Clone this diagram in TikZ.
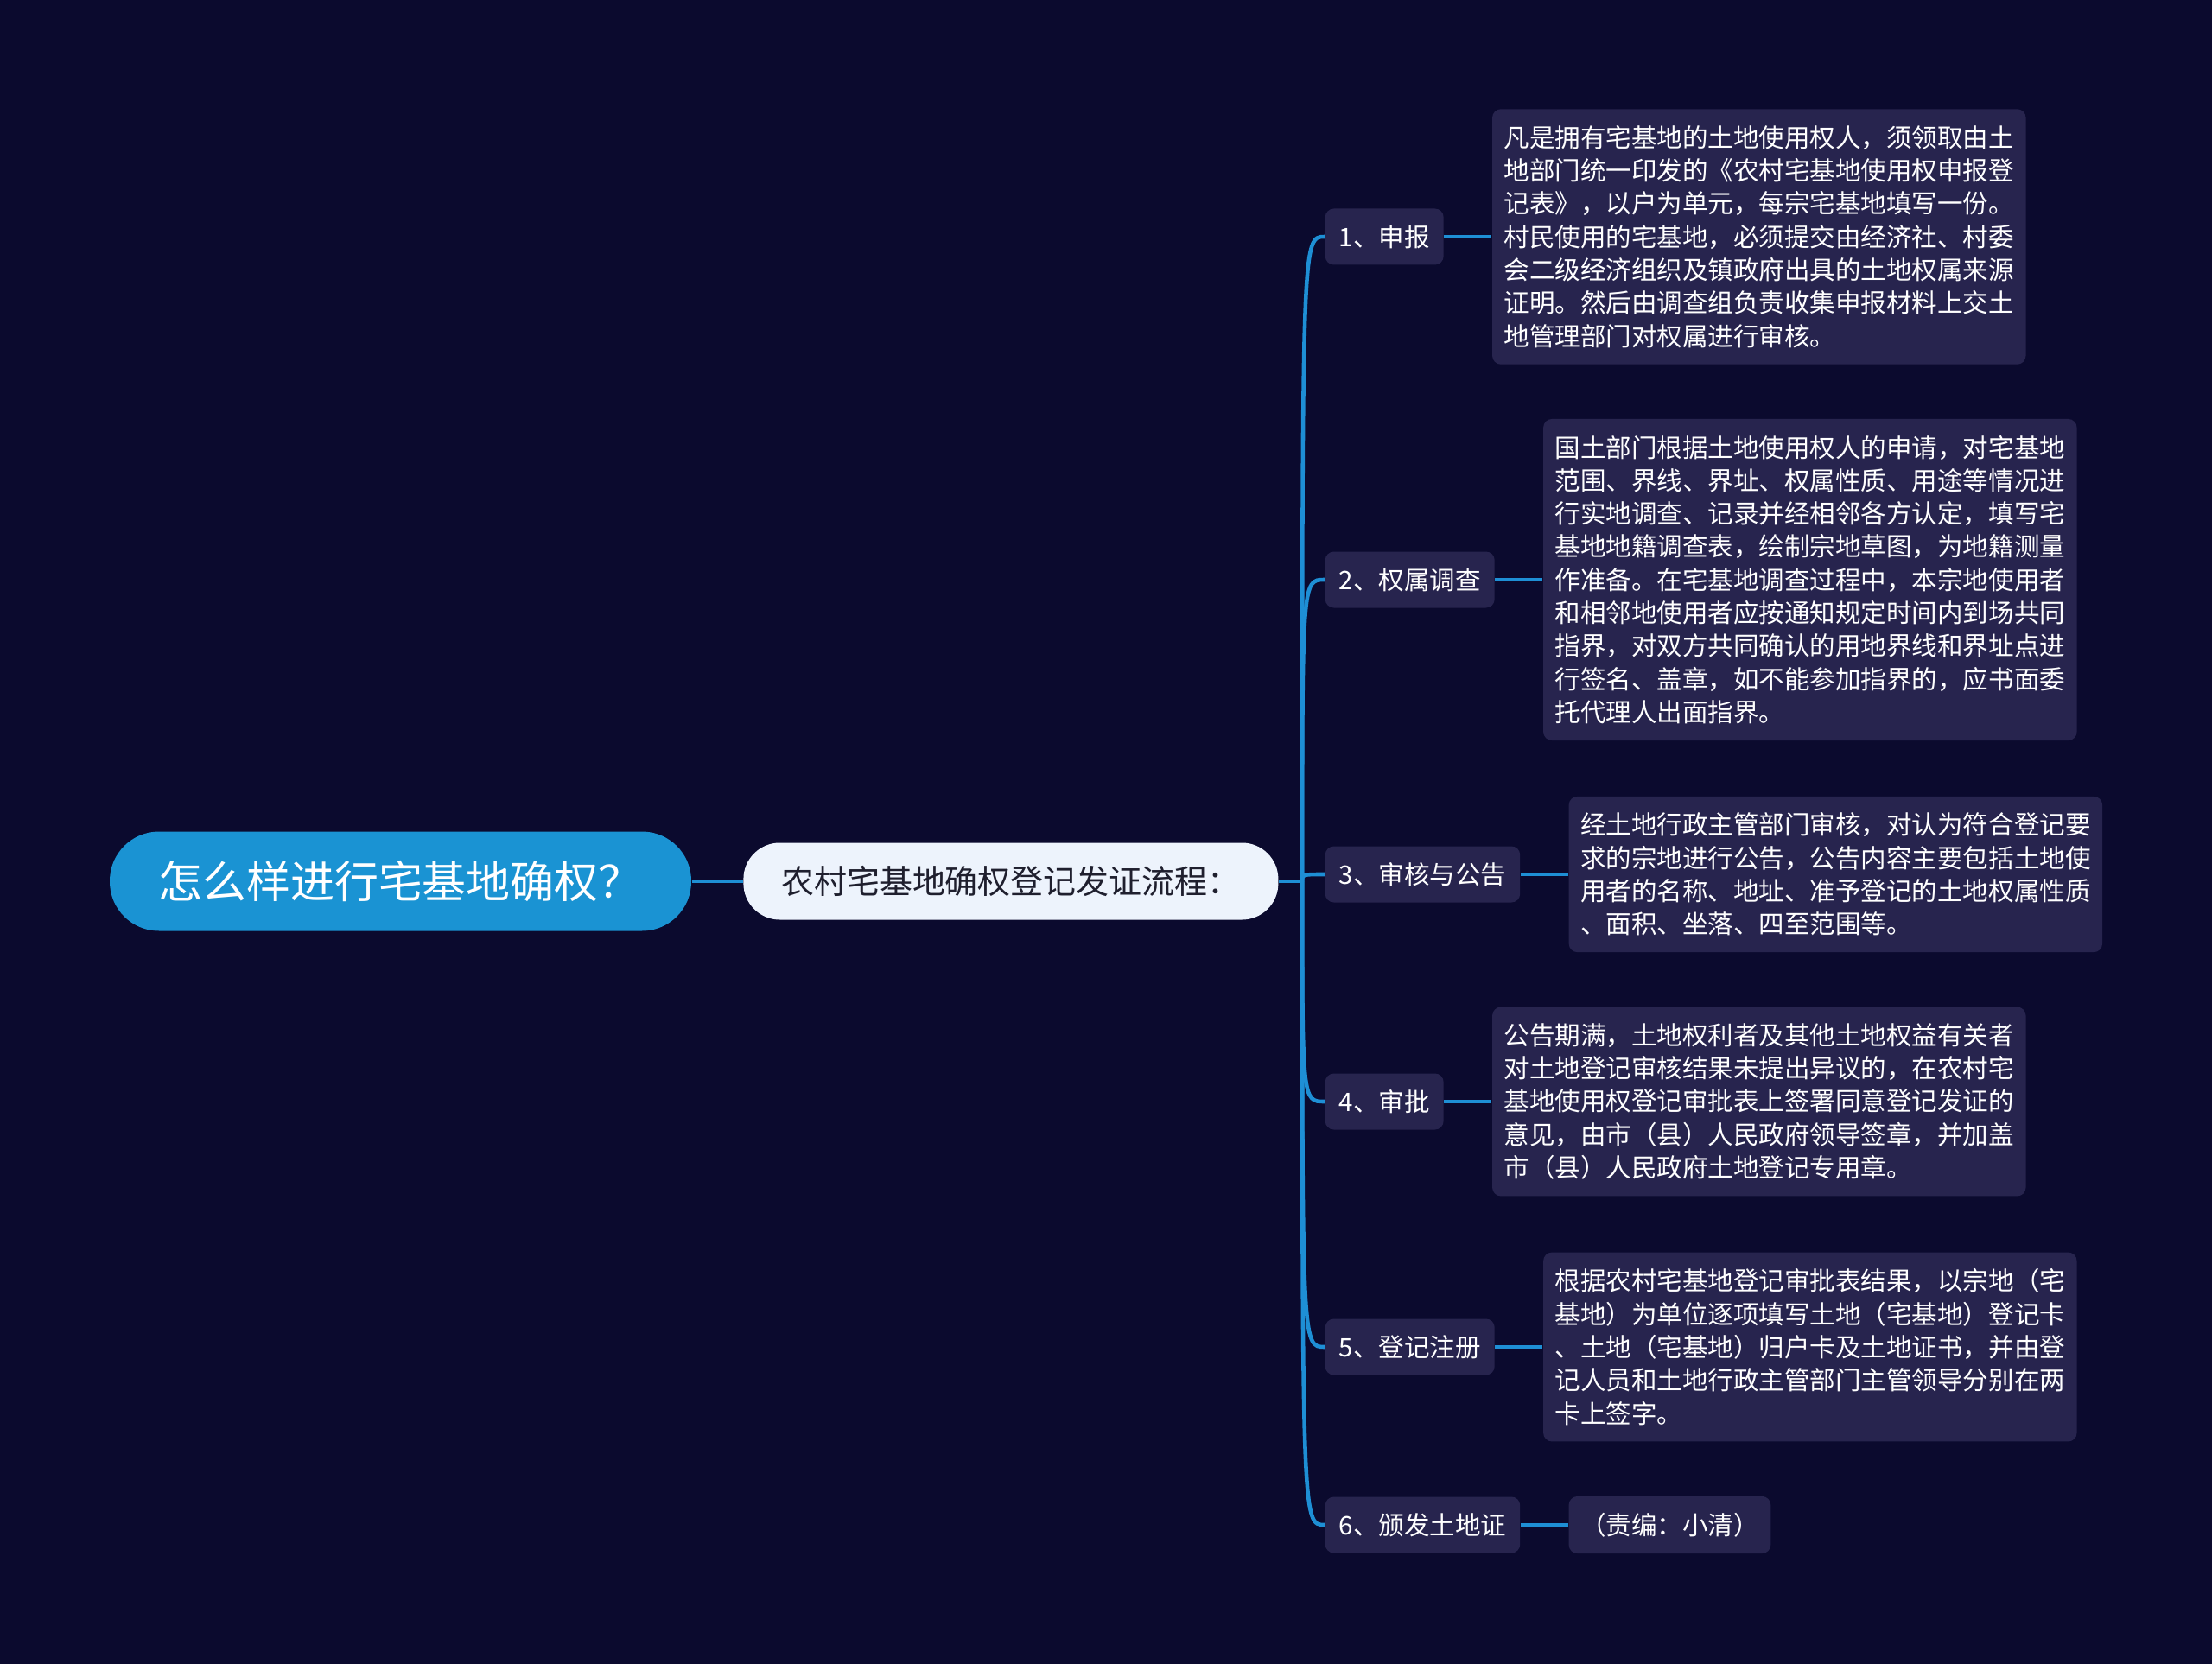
\documentclass[tikz,border=0pt]{standalone}
\usepackage{fontspec}
\setmainfont{Noto Sans CJK SC}
\usetikzlibrary{positioning}

\definecolor{bgnavy}{HTML}{0B0A2E}
\definecolor{rootblue}{HTML}{1A93D3}
\definecolor{topicwhite}{HTML}{EDF3FC}
\definecolor{topictext}{HTML}{1F1F2E}
\definecolor{boxgrey}{HTML}{27244E}
\definecolor{linkblue}{HTML}{1E8FD5}

\begin{document}
\begin{tikzpicture}[
  root/.style={fill=rootblue, rounded corners=0.57cm, minimum width=6.73cm, minimum height=1.15cm, text=white, font=\fontsize{14.5}{17}\selectfont},
  topic/.style={fill=topicwhite, rounded corners=0.42cm, minimum width=6.19cm, minimum height=0.89cm, text=topictext, font=\fontsize{10.8}{12.5}\selectfont},
  stepbox/.style={fill=boxgrey, rounded corners=0.1cm, anchor=west, inner xsep=0.16cm, minimum height=0.65cm, text=white, font=\fontsize{8.4}{10.9}\selectfont},
  note/.style={fill=boxgrey, rounded corners=0.1cm, align=left, inner xsep=0.135cm, inner ysep=0.19cm, text=white, font=\fontsize{8.4}{10.9}\selectfont},
  link/.style={draw=linkblue, line width=1.3pt},
  node distance=0.55cm
]
\fill[bgnavy] (0,0) rectangle (25.6,-19.26);

\node[root] (root) at (4.635,-10.2) {怎么样进行宅基地确权？};
\node[topic, right=0.59cm of root] (flow) {农村宅基地确权登记发证流程：};
\draw[link] (root) -- (flow);
\coordinate (fork) at ([xshift=0.27cm]flow.east);
\draw[link] (flow.east) -- (fork);

% steps
\node[stepbox] (s1) at (15.33,-2.74) {1、申报};
\node[stepbox] (s2) at (15.33,-6.71) {2、权属调查};
\node[stepbox] (s3) at (15.33,-10.12) {3、审核与公告};
\node[stepbox] (s4) at (15.33,-12.75) {4、审批};
\node[stepbox] (s5) at (15.33,-15.59) {5、登记注册};
\node[stepbox] (s6) at (15.33,-17.65) {6、颁发土地证};
\draw[link] (fork) .. controls (fork |- s1.west) .. (s1.west);
\draw[link] (fork) .. controls (fork |- s2.west) .. (s2.west);
\draw[link] (fork) .. controls (fork |- s3.west) .. (s3.west);
\draw[link] (fork) .. controls (fork |- s4.west) .. (s4.west);
\draw[link] (fork) .. controls (fork |- s5.west) .. (s5.west);
\draw[link] (fork) .. controls (fork |- s6.west) .. (s6.west);

% details
\node[note, right=of s1] (d1) {凡是拥有宅基地的土地使用权人，须领取由土\\地部门统一印发的《农村宅基地使用权申报登\\记表》，以户为单元，每宗宅基地填写一份。\\村民使用的宅基地，必须提交由经济社、村委\\会二级经济组织及镇政府出具的土地权属来源\\证明。然后由调查组负责收集申报材料上交土\\地管理部门对权属进行审核。};
\node[note, right=of s2] (d2) {国土部门根据土地使用权人的申请，对宅基地\\范围、界线、界址、权属性质、用途等情况进\\行实地调查、记录并经相邻各方认定，填写宅\\基地地籍调查表，绘制宗地草图，为地籍测量\\作准备。在宅基地调查过程中，本宗地使用者\\和相邻地使用者应按通知规定时间内到场共同\\指界，对双方共同确认的用地界线和界址点进\\行签名、盖章，如不能参加指界的，应书面委\\托代理人出面指界。};
\node[note, right=of s3] (d3) {经土地行政主管部门审核，对认为符合登记要\\求的宗地进行公告，公告内容主要包括土地使\\用者的名称、地址、准予登记的土地权属性质\\、面积、坐落、四至范围等。};
\node[note, right=of s4] (d4) {公告期满，土地权利者及其他土地权益有关者\\对土地登记审核结果未提出异议的，在农村宅\\基地使用权登记审批表上签署同意登记发证的\\意见，由市（县）人民政府领导签章，并加盖\\市（县）人民政府土地登记专用章。};
\node[note, right=of s5] (d5) {根据农村宅基地登记审批表结果，以宗地（宅\\基地）为单位逐项填写土地（宅基地）登记卡\\、土地（宅基地）归户卡及土地证书，并由登\\记人员和土地行政主管部门主管领导分别在两\\卡上签字。};
\node[note, right=of s6] (d6) {（责编：小清）};
\draw[link] (s1) -- (d1);
\draw[link] (s2) -- (d2);
\draw[link] (s3) -- (d3);
\draw[link] (s4) -- (d4);
\draw[link] (s5) -- (d5);
\draw[link] (s6) -- (d6);
\end{tikzpicture}
\end{document}
